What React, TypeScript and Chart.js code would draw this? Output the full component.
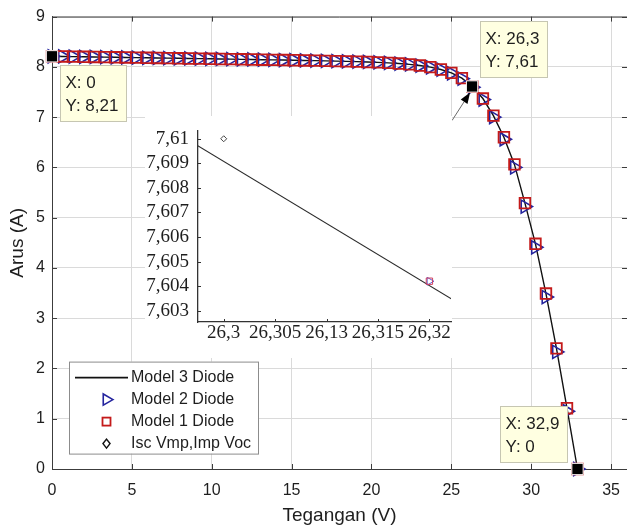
import React, { useEffect, useRef } from "react";
import { Chart, registerables } from "chart.js";

Chart.register(...registerables);

// ---------- data ----------
const seriesNames = ["Model 3 Diode", "Model 2 Diode", "Model 1 Diode", "Isc Vmp,Imp Voc"];

const voltage = [
  0, 0.658, 1.316, 1.974, 2.632, 3.29, 3.948, 4.606, 5.264, 5.922, 6.58, 7.238, 7.896, 8.554,
  9.212, 9.87, 10.528, 11.186, 11.844, 12.502, 13.16, 13.818, 14.476, 15.134, 15.792, 16.45,
  17.108, 17.766, 18.424, 19.082, 19.74, 20.398, 21.056, 21.714, 22.372, 23.03, 23.688, 24.346,
  25.004, 25.662, 26.32, 26.978, 27.636, 28.294, 28.952, 29.61, 30.268, 30.926, 31.584, 32.242, 32.9,
];

const currentModel3 = [
  8.21, 8.207, 8.204, 8.2, 8.197, 8.194, 8.19, 8.187, 8.184, 8.18, 8.177, 8.174, 8.17, 8.167,
  8.164, 8.16, 8.157, 8.154, 8.15, 8.147, 8.143, 8.14, 8.136, 8.132, 8.128, 8.124, 8.12, 8.115,
  8.11, 8.104, 8.097, 8.089, 8.079, 8.066, 8.049, 8.026, 7.994, 7.948, 7.88, 7.776, 7.604, 7.37,
  7.03, 6.6, 6.06, 5.29, 4.48, 3.49, 2.4, 1.21, 0,
];

const currentModel2 = [
  8.21, 8.207, 8.204, 8.2, 8.197, 8.194, 8.19, 8.187, 8.184, 8.18, 8.177, 8.174, 8.17, 8.167,
  8.164, 8.16, 8.157, 8.154, 8.15, 8.147, 8.143, 8.14, 8.136, 8.132, 8.128, 8.124, 8.12, 8.115,
  8.11, 8.104, 8.097, 8.089, 8.079, 8.066, 8.049, 8.026, 7.992, 7.944, 7.872, 7.765, 7.595, 7.35,
  7.0, 6.56, 6.0, 5.22, 4.41, 3.42, 2.33, 1.15, 0,
];

const currentModel1 = [
  8.21, 8.207, 8.204, 8.2, 8.197, 8.194, 8.19, 8.187, 8.184, 8.18, 8.177, 8.174, 8.17, 8.167,
  8.164, 8.16, 8.157, 8.154, 8.15, 8.147, 8.143, 8.14, 8.136, 8.132, 8.128, 8.124, 8.12, 8.115,
  8.11, 8.104, 8.097, 8.089, 8.079, 8.066, 8.049, 8.026, 7.994, 7.948, 7.88, 7.776, 7.604, 7.37,
  7.03, 6.6, 6.06, 5.29, 4.48, 3.49, 2.4, 1.21, 0,
];

const keyVoltage = [0, 26.3, 32.9];
const keyCurrent = [8.21, 7.61, 0];
const keyLabelX = ["0", "26,3", "32,9"];
const keyLabelY = ["8,21", "7,61", "0"];

const xTicks = [0, 5, 10, 15, 20, 25, 30, 35];
const yTicks = [0, 1, 2, 3, 4, 5, 6, 7, 8, 9];

// inset (zoom around the maximum power point)
const insetLineV = [26.29, 26.33];
const insetLineI = [7.6116, 7.6015];
const insetModelV = [26.32];
const insetModel2I = [7.6042];
const insetModel1I = [7.6042];
const insetKeyV = [26.3];
const insetKeyI = [7.61];
const insetXTicks = [26.3, 26.305, 26.31, 26.315, 26.32];
const insetXTickLabels = ["26,3", "26,305", "26,13", "26,315", "26,32"];
const insetYTicks = [7.603, 7.604, 7.605, 7.606, 7.607, 7.608, 7.609, 7.61];
const insetYTickLabels = ["7,603", "7,604", "7,605", "7,606", "7,607", "7,608", "7,609", "7,61"];

// ---------- styles ----------
const SANS = "'Liberation Sans', Arial, Helvetica, sans-serif";
const SERIF = "'Liberation Serif', 'Times New Roman', serif";
const BLUE = "#24249e";
const RED = "#c41a1a";
const TEXT = "#1e1e1e";
const GRID = "#dadada";
const AXIS = "#3c3c3c";
const tipPlacement = ["br", "tr", "tl"];

Chart.defaults.font.family = SANS;

const pts = (xs: number[], ys: number[]) => xs.map((x, i) => ({ x, y: ys[i] }));

function triPath(ctx: CanvasRenderingContext2D, cx: number, cy: number, r: number) {
  ctx.beginPath();
  ctx.moveTo(cx + r, cy);
  ctx.lineTo(cx - r / 2, cy - (r * Math.sqrt(3)) / 2);
  ctx.lineTo(cx - r / 2, cy + (r * Math.sqrt(3)) / 2);
  ctx.closePath();
}

const mainDecor = {
  id: "mainDecor",
  beforeDatasetsDraw(chart: any) {
    const { ctx, chartArea: a, scales } = chart;
    const x = scales.x;
    const y = scales.y;
    ctx.save();
    ctx.strokeStyle = AXIS;
    ctx.lineWidth = 1;
    ctx.beginPath();
    ctx.moveTo(a.left, a.top + 0.5);
    ctx.lineTo(a.right, a.top + 0.5);
    for (const v of xTicks) {
      const p = Math.round(x.getPixelForValue(v)) + 0.5;
      ctx.moveTo(p, a.bottom);
      ctx.lineTo(p, a.bottom - 5);
      ctx.moveTo(p, a.top);
      ctx.lineTo(p, a.top + 5);
    }
    for (const v of yTicks) {
      const p = Math.round(y.getPixelForValue(v)) + 0.5;
      ctx.moveTo(a.left, p);
      ctx.lineTo(a.left + 5, p);
      ctx.moveTo(a.right, p);
      ctx.lineTo(a.right - 5, p);
    }
    ctx.stroke();
    ctx.restore();
  },
  afterDatasetsDraw(chart: any) {
    const { ctx, chartArea: a, scales } = chart;
    const x = scales.x;
    const y = scales.y;
    ctx.save();

    // pointer arrow from the inset corner to the maximum power point
    const mx = x.getPixelForValue(keyVoltage[1]);
    const my = y.getPixelForValue(keyCurrent[1]);
    const sx = mx - 20, sy = my + 34;
    const tx = mx - 2, ty = my + 6;
    const ang = Math.atan2(ty - sy, tx - sx);
    const hl = 11, hw = 4;
    const bxp = tx - Math.cos(ang) * hl, byp = ty - Math.sin(ang) * hl;
    ctx.strokeStyle = "#6a6a6a";
    ctx.lineWidth = 1;
    ctx.beginPath();
    ctx.moveTo(sx, sy);
    ctx.lineTo(bxp, byp);
    ctx.stroke();
    ctx.fillStyle = "#000";
    ctx.beginPath();
    ctx.moveTo(tx, ty);
    ctx.lineTo(bxp + Math.sin(ang) * hw, byp - Math.cos(ang) * hw);
    ctx.lineTo(bxp - Math.sin(ang) * hw, byp + Math.cos(ang) * hw);
    ctx.closePath();
    ctx.fill();

    // data tips
    ctx.font = `17px ${SANS}`;
    ctx.textBaseline = "middle";
    ctx.textAlign = "left";
    for (let i = 0; i < keyVoltage.length; i++) {
      const px = x.getPixelForValue(keyVoltage[i]);
      const py = y.getPixelForValue(keyCurrent[i]);
      const l1 = "X: " + keyLabelX[i];
      const l2 = "Y: " + keyLabelY[i];
      const w = Math.round(Math.max(ctx.measureText(l1).width, ctx.measureText(l2).width) + 13);
      const h = 56;
      let bx = px + 8, by = py + 9;
      if (tipPlacement[i] === "tr") { bx = px + 8; by = py - 9 - h; }
      if (tipPlacement[i] === "tl") { bx = px - 10 - w; by = py - 7 - h; }
      bx = Math.round(bx) + 0.5;
      by = Math.round(by) + 0.5;
      ctx.fillStyle = "#ffffe1";
      ctx.fillRect(bx, by, w, h);
      ctx.strokeStyle = "#c6c6b2";
      ctx.lineWidth = 1;
      ctx.strokeRect(bx, by, w, h);
      ctx.fillStyle = TEXT;
      ctx.fillText(l1, bx + 5, by + 18);
      ctx.fillText(l2, bx + 5, by + 41);
    }

    // legend
    const lx = a.left + 17, ly = a.top + 345, lw = 189, lh = 92;
    ctx.fillStyle = "#ffffff";
    ctx.fillRect(lx, ly, lw, lh);
    ctx.strokeStyle = "#8c8c8c";
    ctx.lineWidth = 1;
    ctx.strokeRect(lx + 0.5, ly + 0.5, lw, lh);
    const rows = [ly + 16, ly + 38, ly + 60, ly + 82];
    const cx = lx + 37.5;
    ctx.strokeStyle = "#111";
    ctx.lineWidth = 1.6;
    ctx.beginPath();
    ctx.moveTo(lx + 6, rows[0]);
    ctx.lineTo(lx + 59, rows[0]);
    ctx.stroke();
    ctx.strokeStyle = BLUE;
    ctx.lineWidth = 1.6;
    triPath(ctx, cx, rows[1], 6.5);
    ctx.stroke();
    ctx.strokeStyle = RED;
    ctx.lineWidth = 1.8;
    ctx.strokeRect(cx - 4, rows[2] - 4, 8, 8);
    ctx.strokeStyle = "#111";
    ctx.lineWidth = 1.5;
    ctx.beginPath();
    ctx.moveTo(cx, rows[3] - 4.5);
    ctx.lineTo(cx + 3.5, rows[3]);
    ctx.lineTo(cx, rows[3] + 4.5);
    ctx.lineTo(cx - 3.5, rows[3]);
    ctx.closePath();
    ctx.stroke();
    ctx.font = `16px ${SANS}`;
    ctx.fillStyle = TEXT;
    seriesNames.forEach((t, i) => ctx.fillText(t, lx + 62, rows[i]));
    ctx.restore();
  },
};

const insetDecor = {
  id: "insetDecor",
  beforeDraw(chart: any) {
    const { ctx } = chart;
    ctx.save();
    ctx.fillStyle = "#ffffff";
    ctx.fillRect(5, 6, 307, 242);
    ctx.restore();
  },
  afterDraw(chart: any) {
    const { ctx, chartArea: a, scales } = chart;
    ctx.save();
    ctx.strokeStyle = "#333";
    ctx.lineWidth = 1;
    ctx.beginPath();
    for (const v of insetXTicks) {
      const p = Math.round(scales.x.getPixelForValue(v)) + 0.5;
      ctx.moveTo(p, a.bottom);
      ctx.lineTo(p, a.bottom - 3);
    }
    for (const v of insetYTicks) {
      const p = Math.round(scales.y.getPixelForValue(v)) + 0.5;
      ctx.moveTo(a.left, p);
      ctx.lineTo(a.left + 3, p);
    }
    ctx.stroke();
    ctx.restore();
  },
};

export default function App() {
  const mainRef = useRef<HTMLCanvasElement>(null);
  const insetRef = useRef<HTMLCanvasElement>(null);

  useEffect(() => {
    const main = new Chart(mainRef.current as HTMLCanvasElement, {
      type: "scatter",
      data: {
        datasets: [
          {
            label: seriesNames[0],
            data: pts(voltage, currentModel3),
            showLine: true,
            borderColor: "#111",
            borderWidth: 1.4,
            pointRadius: 0,
            order: 4,
          },
          {
            label: seriesNames[1],
            data: pts(voltage, currentModel2),
            pointStyle: "triangle",
            rotation: 90,
            pointRadius: 7.5,
            borderColor: BLUE,
            backgroundColor: "rgba(0,0,0,0)",
            borderWidth: 1.6,
            clip: false,
            order: 3,
          },
          {
            label: seriesNames[2],
            data: pts(voltage, currentModel1),
            pointStyle: "rect",
            pointRadius: 7.5,
            borderColor: RED,
            backgroundColor: "rgba(0,0,0,0)",
            borderWidth: 1.8,
            clip: false,
            order: 2,
          },
          {
            label: seriesNames[3],
            data: pts(keyVoltage, keyCurrent),
            pointStyle: "rectRot",
            pointRadius: 4,
            borderColor: "#111",
            backgroundColor: "#fff",
            borderWidth: 1.2,
            clip: false,
            order: 1,
          },
          {
            label: "datatip",
            data: pts(keyVoltage, keyCurrent),
            pointStyle: "rect",
            pointRadius: 8,
            borderColor: "#ffffff",
            backgroundColor: "#000000",
            borderWidth: 1,
            clip: false,
            order: 0,
          },
        ],
      },
      options: {
        responsive: false,
        animation: false,
        events: [],
        layout: { autoPadding: false, padding: { top: 14, right: 0, left: 0, bottom: 0 } },
        plugins: { legend: { display: false }, tooltip: { enabled: false } },
        scales: {
          x: {
            type: "linear",
            min: 0,
            max: 36,
            afterBuildTicks: (s: any) => {
              s.ticks = xTicks.map((v) => ({ value: v }));
            },
            afterFit: (s: any) => {
              s.height = 60;
              s.paddingLeft = 0;
              s.paddingRight = 0;
            },
            grid: { color: GRID, lineWidth: 1, drawTicks: false },
            border: { display: true, color: AXIS, width: 1 },
            ticks: {
              color: TEXT,
              font: { size: 16 },
              padding: 12,
              autoSkip: false,
              maxRotation: 0,
              callback: (v: any) => String(v),
            },
            title: {
              display: true,
              text: "Tegangan (V)",
              color: TEXT,
              font: { size: 19 },
              padding: { top: 0, bottom: 2 },
            },
          },
          y: {
            type: "linear",
            min: 0,
            max: 9,
            afterBuildTicks: (s: any) => {
              s.ticks = yTicks.map((v) => ({ value: v }));
            },
            afterFit: (s: any) => {
              s.width = 52;
            },
            grid: { color: GRID, lineWidth: 1, drawTicks: false },
            border: { display: true, color: AXIS, width: 1 },
            ticks: {
              color: TEXT,
              font: { size: 16 },
              padding: 7,
              autoSkip: false,
              callback: (v: any) => String(v),
            },
            title: {
              display: true,
              text: "Arus (A)",
              color: TEXT,
              font: { size: 19 },
              padding: { top: 6, bottom: 0 },
            },
          },
        },
      },
      plugins: [mainDecor],
    } as any);

    const inset = new Chart(insetRef.current as HTMLCanvasElement, {
      type: "scatter",
      data: {
        datasets: [
          {
            label: seriesNames[0],
            data: pts(insetLineV, insetLineI),
            showLine: true,
            borderColor: "#2a2a2a",
            borderWidth: 1.1,
            pointRadius: 0,
            order: 3,
          },
          {
            label: seriesNames[1],
            data: pts(insetModelV, insetModel2I),
            pointStyle: "triangle",
            rotation: 90,
            pointRadius: 4.5,
            borderColor: "#5a5ad0",
            backgroundColor: "rgba(0,0,0,0)",
            borderWidth: 1,
            order: 2,
          },
          {
            label: seriesNames[2],
            data: pts(insetModelV, insetModel1I),
            pointStyle: "rect",
            pointRadius: 4.5,
            borderColor: "#d04060",
            backgroundColor: "rgba(0,0,0,0)",
            borderWidth: 1,
            order: 1,
          },
          {
            label: seriesNames[3],
            data: pts(insetKeyV, insetKeyI),
            pointStyle: "rectRot",
            pointRadius: 3,
            borderColor: "#444",
            backgroundColor: "#fff",
            borderWidth: 1,
            clip: false,
            order: 0,
          },
        ],
      },
      options: {
        responsive: false,
        animation: false,
        events: [],
        layout: { autoPadding: false, padding: { top: 7, right: 19, left: 0, bottom: 0 } },
        plugins: { legend: { display: false }, tooltip: { enabled: false } },
        scales: {
          x: {
            type: "linear",
            min: 26.2975,
            max: 26.3221,
            afterBuildTicks: (s: any) => {
              s.ticks = insetXTicks.map((v) => ({ value: v }));
            },
            afterFit: (s: any) => {
              s.height = 48;
              s.paddingLeft = 0;
              s.paddingRight = 0;
            },
            grid: { display: false, drawTicks: false },
            border: { display: true, color: "#333", width: 1.3 },
            ticks: {
              color: TEXT,
              font: { size: 19, family: SERIF },
              padding: 0,
              autoSkip: false,
              maxRotation: 0,
              minRotation: 0,
              callback: (_v: any, i: number) => insetXTickLabels[i],
            },
          },
          y: {
            type: "linear",
            min: 7.60254,
            max: 7.61034,
            afterBuildTicks: (s: any) => {
              s.ticks = insetYTicks.map((v) => ({ value: v }));
            },
            afterFit: (s: any) => {
              s.width = 58;
            },
            grid: { display: false, drawTicks: false },
            border: { display: true, color: "#333", width: 1.3 },
            ticks: {
              color: TEXT,
              font: { size: 19, family: SERIF },
              padding: 9,
              autoSkip: false,
              callback: (_v: any, i: number) => insetYTickLabels[i],
            },
          },
        },
      },
      plugins: [insetDecor],
    } as any);

    return () => {
      main.destroy();
      inset.destroy();
    };
  }, []);

  return (
    <div style={{ position: "absolute", left: 0, top: 0, width: 627, height: 529, background: "#fff" }}>
      <canvas ref={mainRef} width={627} height={529} style={{ position: "absolute", left: 0, top: 0 }} />
      <canvas ref={insetRef} width={330} height={260} style={{ position: "absolute", left: 140, top: 110 }} />
    </div>
  );
}
